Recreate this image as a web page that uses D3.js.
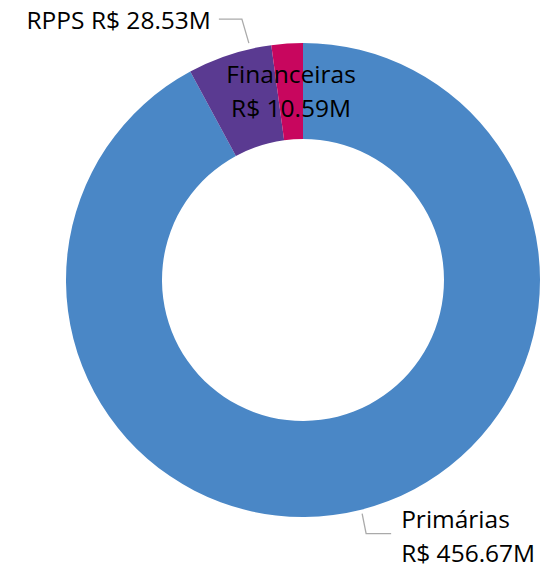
<!DOCTYPE html>
<html><head><meta charset="utf-8">
<script src="https://cdn.jsdelivr.net/npm/d3@7"></script>
<style>html,body{margin:0;padding:0;background:#fff;}svg{display:block;}</style>
</head><body>
<svg id="chart" width="547" height="569"></svg>
<script>
const categories = ["Primárias", "RPPS", "Financeiras"];
const values = [456.67, 28.53, 10.59];
const valueLabels = ["R$ 456.67M", "R$ 28.53M", "R$ 10.59M"];
const colors = ["#4A87C6", "#5A3A91", "#C8065E"];

const W = 547, H = 569;
const cx = 303, cy = 280, outerR = 237, innerR = 141;
const font = "'Open Sans', 'Noto Sans', sans-serif";
const fs = 24.5;

const svg = d3.select("#chart");
const g = svg.append("g").attr("transform", `translate(${cx},${cy})`);

const data = categories.map((c, i) => ({cat: c, value: values[i], label: valueLabels[i], color: colors[i]}));
const pie = d3.pie().sort(null).value(d => d.value).startAngle(0).endAngle(2 * Math.PI);
const arcs = pie(data);
const arc = d3.arc().innerRadius(innerR).outerRadius(outerR);

g.selectAll("path.slice").data(arcs).join("path")
  .attr("class", "slice")
  .attr("d", arc)
  .attr("fill", d => d.data.color);

const pt = (a, r) => [Math.sin(a) * r, -Math.cos(a) * r];

// Primárias label (bottom right)
{
  const a = arcs[0];
  const ang = (a.startAngle + a.endAngle) / 2;
  const p0 = pt(ang, outerR + 4);
  const p1 = [p0[0] + 4, p0[1] + 20];
  const p2 = [p1[0] + 25, p1[1]];
  g.append("polyline").attr("points", [p0, p1, p2].map(p => p.join(",")).join(" "))
    .attr("fill", "none").attr("stroke", "#AAAAAA").attr("stroke-width", 1.3);
  const t = g.append("text").attr("font-family", font).attr("font-size", fs).attr("fill", "#000");
  t.append("tspan").attr("x", p2[0] + 10).attr("y", p2[1] - 5.5).text(a.data.cat);
  t.append("tspan").attr("x", p2[0] + 10).attr("y", p2[1] + 28.5).text(a.data.label);
}

// RPPS label (top left)
{
  const a = arcs[1];
  const ang = a.endAngle - (a.endAngle - a.startAngle) * 0.25;
  const p0 = pt(ang, outerR + 6);
  const p1 = [p0[0] - 7, p0[1] - 24];
  const p2 = [p1[0] - 23, p1[1]];
  g.append("polyline").attr("points", [p0, p1, p2].map(p => p.join(",")).join(" "))
    .attr("fill", "none").attr("stroke", "#AAAAAA").attr("stroke-width", 1.3);
  g.append("text").attr("font-family", font).attr("font-size", fs).attr("fill", "#000")
    .attr("text-anchor", "end")
    .attr("x", p2[0] - 8).attr("y", p2[1] + 10)
    .text(a.data.cat + " " + a.data.label);
}

// Financeiras label (inside near top)
{
  const a = arcs[2];
  const ang = (a.startAngle + a.endAngle) / 2 - 2 * Math.PI;
  const p = pt(ang, outerR - 7);
  const t = g.append("text").attr("font-family", font).attr("font-size", fs).attr("fill", "#000")
    .attr("text-anchor", "middle");
  t.append("tspan").attr("x", p[0] + 3.5).attr("y", p[1] + 32.5).text(a.data.cat);
  t.append("tspan").attr("x", p[0] + 3.5).attr("y", p[1] + 66.5).text(a.data.label);
}
</script>
</body></html>
